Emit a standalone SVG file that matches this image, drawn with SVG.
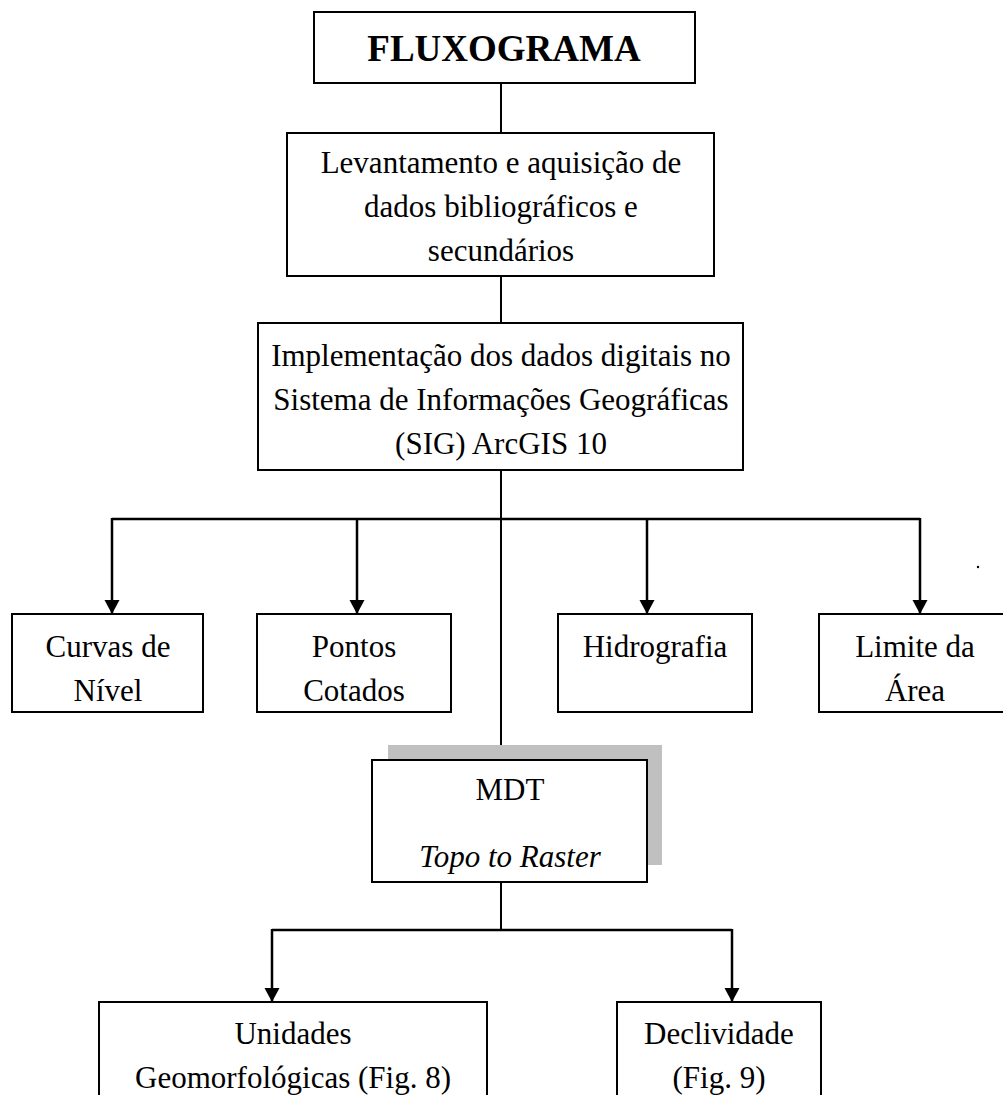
<svg xmlns="http://www.w3.org/2000/svg" width="1003" height="1095" viewBox="0 0 1003 1095">
<style>
.box{fill:#fff;stroke:#000;stroke-width:2}
.t{font-family:"Liberation Serif","Times New Roman",serif;font-size:31px;fill:#000;text-anchor:middle}
.b{font-weight:bold;font-size:37px}
.i{font-style:italic}
.c{stroke:#000;stroke-width:2;fill:none}
.a{stroke:#000;stroke-width:2.5;fill:none}
</style>
<defs>
<marker id="arr" markerUnits="userSpaceOnUse" markerWidth="16" markerHeight="16" refX="14" refY="7.5" orient="auto">
<path d="M0,0 L14,7.5 L0,15 z" fill="#000"/>
</marker>
</defs>
<rect width="1003" height="1095" fill="#fff"/>
<g id="connectors">
<line class="c" x1="501" y1="83" x2="501" y2="133"/>
<line class="c" x1="501" y1="276" x2="501" y2="323"/>
<line class="c" x1="501" y1="470" x2="501" y2="760"/>
<line class="a" x1="112" y1="519" x2="920" y2="519"/>
<line class="a" x1="112" y1="518" x2="112" y2="614" marker-end="url(#arr)"/>
<line class="a" x1="357" y1="519" x2="357" y2="614" marker-end="url(#arr)"/>
<line class="a" x1="647" y1="519" x2="647" y2="614" marker-end="url(#arr)"/>
<line class="a" x1="920" y1="518" x2="920" y2="614" marker-end="url(#arr)"/>
<line class="c" x1="501" y1="882" x2="501" y2="930"/>
<line class="a" x1="272" y1="930" x2="732" y2="930"/>
<line class="a" x1="272" y1="929" x2="272" y2="1002" marker-end="url(#arr)"/>
<line class="a" x1="732" y1="929" x2="732" y2="1002" marker-end="url(#arr)"/>
</g>
<g id="title">
<rect class="box" x="314" y="12" width="381" height="71"/>
<text class="t b" x="504" y="61">FLUXOGRAMA</text>
</g>
<g id="levantamento">
<rect class="box" x="287" y="133" width="427" height="143"/>
<text class="t" x="501" y="173">Levantamento e aquisição de</text>
<text class="t" x="501" y="217">dados bibliográficos e</text>
<text class="t" x="501" y="261">secundários</text>
</g>
<g id="implementacao">
<rect class="box" x="258" y="323" width="485" height="147"/>
<text class="t" x="501" y="366">Implementação dos dados digitais no</text>
<text class="t" x="501" y="410">Sistema de Informações Geográficas</text>
<text class="t" x="501" y="454">(SIG) ArcGIS 10</text>
</g>
<g id="curvas">
<rect class="box" x="12" y="614" width="191" height="98"/>
<text class="t" x="108" y="657">Curvas de</text>
<text class="t" x="108" y="701">Nível</text>
</g>
<g id="pontos">
<rect class="box" x="257" y="614" width="194" height="98"/>
<text class="t" x="354" y="657">Pontos</text>
<text class="t" x="354" y="701">Cotados</text>
</g>
<g id="hidrografia">
<rect class="box" x="558" y="614" width="194" height="98"/>
<text class="t" x="655" y="657">Hidrografia</text>
</g>
<g id="limite">
<rect class="box" x="819" y="614" width="190" height="98"/>
<text class="t" x="915" y="657">Limite da</text>
<text class="t" x="915" y="701">Área</text>
</g>
<circle cx="978" cy="567" r="1.2" fill="#000"/>
<g id="mdt">
<rect x="388" y="745" width="274" height="120" fill="#c0c0c0"/>
<rect class="box" x="372" y="760" width="275" height="122"/>
<text class="t" x="510" y="800">MDT</text>
<text class="t i" x="510" y="867">Topo to Raster</text>
</g>
<g id="unidades">
<rect class="box" x="99" y="1002" width="388" height="110"/>
<text class="t" x="293" y="1044">Unidades</text>
<text class="t" x="293" y="1088">Geomorfológicas (Fig. 8)</text>
</g>
<g id="declividade">
<rect class="box" x="617" y="1002" width="204" height="110"/>
<text class="t" x="719" y="1044">Declividade</text>
<text class="t" x="719" y="1088">(Fig. 9)</text>
</g>
</svg>
